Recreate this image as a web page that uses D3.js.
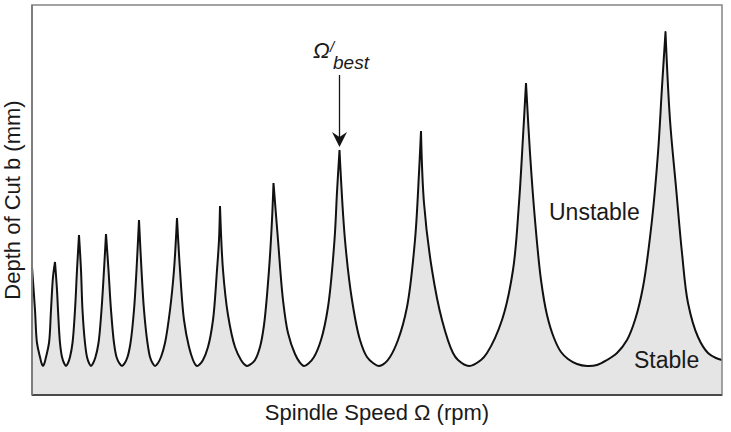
<!DOCTYPE html>
<html>
<head>
<meta charset="utf-8">
<script src="https://cdn.jsdelivr.net/npm/d3@7"></script>
<style>
  html, body { margin: 0; padding: 0; background: #ffffff; }
  svg { display: block; }
  text { font-family: "Liberation Sans", Arial, Helvetica, sans-serif; fill: #1a1a1a; }
</style>
</head>
<body>
<svg id="chart" width="731" height="432"></svg>
<script>
// ---- Data: stability boundary, one array per lobe (spindle speed rpm, depth of cut mm) ----
const lobeSpeeds = [
  [320,350,370,400,415,430,445,460,490,510,530,550],
  [550,570,580,600,620,640,660,680,700,725,750,770,790],
  [790,810,825,850,870,890,910,932,955,985,1015,1040,1060],
  [1060,1085,1110,1140,1165,1192,1220,1248,1275,1305,1340,1365,1390],
  [1390,1415,1440,1475,1500,1525,1550,1580,1610,1650,1700,1740,1770],
  [1770,1800,1840,1890,1930,1950,1970,2000,2030,2080,2130,2170,2190,2200],
  [2200,2230,2280,2350,2410,2440,2470,2510,2550,2600,2640,2690,2720,2735],
  [2735,2780,2830,2880,2950,2995,3040,3090,3140,3210,3280,3345,3370,3395],
  [3395,3450,3520,3600,3670,3730,3790,3850,3900,3980,4070,4150,4190,4210],
  [4210,4240,4320,4420,4530,4580,4690,4810,4870,5020,5130,5190,5230,5260],
  [5260,5300,5350,5410,5470,5540,5610,5680,5770,5870,5970,6070,6170,6270,6350,6430,6520,6580,6620,6655],
  [6655,6700,6760,6820,6880,6980,7080,7160,7220]
];
const lobeDepths = [
  [1.28,0.85,0.52,0.38,0.32,0.29,0.32,0.38,0.52,0.85,1.18,1.33],
  [1.33,1.05,0.85,0.52,0.38,0.32,0.29,0.32,0.38,0.52,0.85,1.25,1.60],
  [1.60,1.25,0.85,0.52,0.38,0.32,0.29,0.32,0.38,0.52,0.85,1.25,1.61],
  [1.61,1.25,0.85,0.52,0.38,0.32,0.29,0.32,0.38,0.52,0.85,1.25,1.75],
  [1.75,1.25,0.85,0.52,0.38,0.32,0.29,0.32,0.38,0.52,0.85,1.25,1.77],
  [1.77,1.25,0.75,0.48,0.35,0.31,0.29,0.31,0.35,0.48,0.75,1.25,1.55,1.89],
  [1.89,1.25,0.80,0.48,0.35,0.31,0.29,0.31,0.35,0.48,0.70,1.25,1.75,2.12],
  [2.12,1.55,0.95,0.62,0.41,0.33,0.29,0.32,0.38,0.55,0.88,1.55,2.03,2.45],
  [2.45,1.55,0.95,0.55,0.38,0.32,0.29,0.32,0.38,0.55,0.88,1.55,2.22,2.64],
  [2.64,1.92,1.25,0.75,0.42,0.35,0.29,0.35,0.42,0.75,1.25,1.92,2.58,3.12],
  [3.12,2.42,1.75,1.15,0.80,0.57,0.43,0.36,0.31,0.29,0.30,0.35,0.42,0.55,0.75,1.08,1.75,2.42,3.08,3.63],
  [3.63,2.75,2.08,1.42,0.92,0.58,0.42,0.37,0.35]
];
const speedDomain = [320, 7220];
const depthDomain = [0, 3.9];
const bestLobe = 8;   // lobe whose left cusp is the marked best speed
const xTitle = "Spindle Speed \u03A9 (rpm)";
const yTitle = "Depth of Cut b (mm)";
const regionLabels = ["Unstable", "Stable"];

// ---- Layout ----
const svg = d3.select("#chart");
const L = 32, R = 722, T = 5, B = 395;
const x = d3.scaleLinear().domain(speedDomain).range([L, R]);
const y = d3.scaleLinear().domain(depthDomain).range([B, T]);

// Build boundary path lobe by lobe so the cusps stay sharp
const line = d3.line().x(d => x(d[0])).y(d => y(d[1])).curve(d3.curveCatmullRom.alpha(0.5));
let boundary = "";
lobeSpeeds.forEach((sp, i) => {
  const pts = sp.map((s, j) => [s, lobeDepths[i][j]]);
  let p = line(pts);
  if (i > 0) p = "L" + p.slice(1);
  boundary += p;
});
const lastLobe = lobeSpeeds[lobeSpeeds.length - 1];
const areaPath = boundary + "L" + x(lastLobe[lastLobe.length - 1]) + "," + y(0) +
                 "L" + x(lobeSpeeds[0][0]) + "," + y(0) + "Z";

svg.append("path").attr("d", areaPath).attr("fill", "#e5e5e5").attr("stroke", "none");
svg.append("path").attr("d", boundary).attr("fill", "none")
  .attr("stroke", "#111111").attr("stroke-width", 2).attr("stroke-linejoin", "miter")
  .attr("stroke-miterlimit", 3);

// Frame
svg.append("rect").attr("x", L).attr("y", T).attr("width", R - L).attr("height", B - T)
  .attr("fill", "none").attr("stroke", "#8c8c8c").attr("stroke-width", 1.6);
svg.append("line").attr("x1", L).attr("x2", R).attr("y1", B).attr("y2", B)
  .attr("stroke", "#4a4a4a").attr("stroke-width", 2.2);
svg.append("line").attr("x1", L).attr("x2", L).attr("y1", T).attr("y2", B)
  .attr("stroke", "#7a7a7a").attr("stroke-width", 1.8);

// Axis titles
svg.append("text").attr("x", (L + R) / 2).attr("y", 420)
  .attr("text-anchor", "middle").attr("font-size", 22).text(xTitle);
svg.append("text").attr("transform", "translate(20," + 200 + ") rotate(-90)")
  .attr("text-anchor", "middle").attr("font-size", 22).text(yTitle);

// Region labels
svg.append("text").attr("x", 549).attr("y", 220).attr("font-size", 23).text(regionLabels[0]);
svg.append("text").attr("x", 634).attr("y", 368).attr("font-size", 23).text(regionLabels[1]);

// Best-speed annotation, anchored to the chosen cusp
const bx = x(lobeSpeeds[bestLobe][0]);
const by = y(lobeDepths[bestLobe][0]);
svg.append("line").attr("x1", bx).attr("x2", bx).attr("y1", 75).attr("y2", by - 10)
  .attr("stroke", "#141414").attr("stroke-width", 1.3);
const tip = by - 3;
svg.append("path")
  .attr("d", `M${bx},${tip} L${bx - 7.5},${tip - 15} L${bx},${tip - 10} L${bx + 7.5},${tip - 15} Z`)
  .attr("fill", "#141414");
svg.append("text").attr("x", 313).attr("y", 58).attr("font-size", 22)
  .attr("font-style", "italic").text("\u03A9");
svg.append("text").attr("x", 330).attr("y", 52).attr("font-size", 15)
  .attr("font-style", "italic").text("/");
svg.append("text").attr("x", 333).attr("y", 69).attr("font-size", 19)
  .attr("font-style", "italic").text("best");
</script>
</body>
</html>
